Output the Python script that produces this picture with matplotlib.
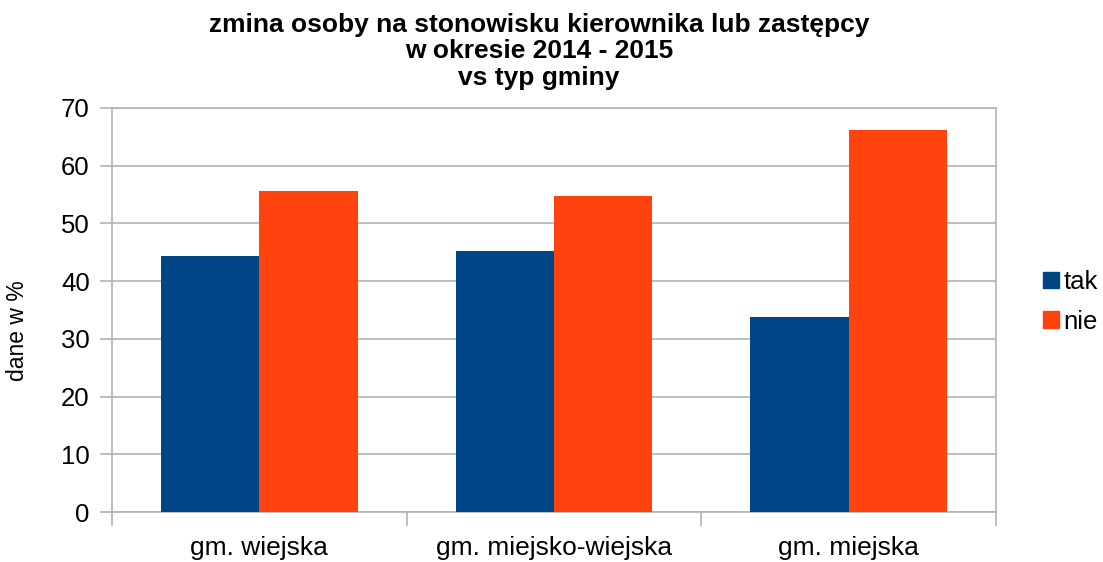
import matplotlib
matplotlib.use("Agg")
import matplotlib.pyplot as plt
import numpy as np
from matplotlib.patches import Patch

categories = ["gm. wiejska", "gm. miejsko-wiejska", "gm. miejska"]
series_names = ["tak", "nie"]
tak = [44.3, 45.2, 33.8]
nie = [55.7, 54.8, 66.2]
colors = ["#004586", "#ff420e"]
title = "zmina osoby na stonowisku kierownika lub zastępcy\nw okresie 2014 - 2015\nvs typ gminy"
ylabel = "dane w %"

plt.rcParams['font.family'] = ['Liberation Sans', 'DejaVu Sans']

fig = plt.figure(figsize=(11.03, 5.62), dpi=100)
ax = fig.add_axes([112/1103, 50/562, (996-112)/1103, (512-108)/562])

x = np.arange(len(categories))
w = 1/3
ax.bar(x - w/2, tak, width=w, color=colors[0], label=series_names[0], zorder=3)
ax.bar(x + w/2, nie, width=w, color=colors[1], label=series_names[1], zorder=3)

ax.set_xlim(-0.5, len(categories) - 0.5)
ax.set_ylim(0, 70)
ax.set_yticks(np.arange(0, 71, 10))
ax.yaxis.grid(True, color="#b3b3b3", linewidth=1.2, zorder=0)
ax.set_xticks(x)
ax.set_xticklabels(categories, fontsize=19)
ax.set_xticks(np.arange(-0.5, len(categories), 1), minor=True)
ax.tick_params(axis='x', which='major', length=0, pad=17)
ax.tick_params(axis='x', which='minor', length=10, color="#b3b3b3", width=1.2)
ax.tick_params(axis='y', length=9, color="#b3b3b3", width=1.2, labelsize=18.5, pad=7)
for s in ax.spines.values():
    s.set_color("#b3b3b3")
    s.set_linewidth(1.2)
ax.set_ylabel(ylabel, fontsize=16.5)
ax.yaxis.set_label_coords(-(112 - 29) / 884, 0.45)

fig.text(539/1103, 1 - 13/562, title, ha='center', va='top', fontsize=19,
         fontweight='bold', linespacing=1.13)

handles = [Patch(color=c, label=n) for c, n in zip(colors, series_names)]
fig.legend(handles=handles, loc='center left', bbox_to_anchor=(1020/1103, 1 - 302/562),
           frameon=False, fontsize=18.5, handlelength=0.6, handleheight=0.6,
           handletextpad=0.2, labelspacing=0.6)

fig.savefig("out.png", dpi=100)
